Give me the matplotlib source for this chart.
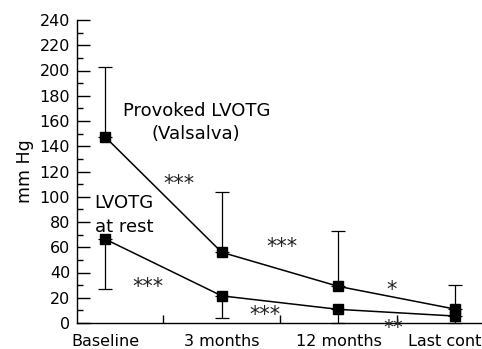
import numpy as np
import matplotlib
matplotlib.use('Agg')
import matplotlib.pyplot as plt
from matplotlib.ticker import MultipleLocator, FixedLocator

# data
categories = ['Baseline', '3 months', '12 months', 'Last control']
provoked = [147.5, 56, 29, 11]
provoked_up = [55, 48, 43.5, 19]      # upper SD only
rest = [66.5, 21.5, 10.8, 5.5]
rest_down = [39.5, 17.5, 10.8, 5.5]   # lower SD only

plt.rcParams['font.family'] = 'DejaVu Sans'

fig = plt.figure(figsize=(4.82, 3.49), dpi=100)
ax = fig.add_axes([77/482, 26/349, 405/482, 303/349])

x = np.arange(len(categories))
ax.errorbar(x, provoked, yerr=[np.zeros(len(x)), provoked_up], color='black',
            marker='s', markersize=6.5, linewidth=1.1, elinewidth=0.9,
            capsize=5, capthick=0.9, clip_on=False, zorder=3)
ax.errorbar(x, rest, yerr=[rest_down, np.zeros(len(x))], color='black',
            marker='s', markersize=6.5, linewidth=1.1, elinewidth=0.9,
            capsize=5, capthick=0.9, clip_on=False, zorder=3)

ax.set_xlim(-0.24, 3.23)
ax.set_ylim(0, 240)

for side in ['top', 'right']:
    ax.spines[side].set_visible(False)
ax.spines['left'].set_linewidth(1.0)
ax.spines['bottom'].set_linewidth(1.0)

ax.yaxis.set_major_locator(MultipleLocator(20))
ax.yaxis.set_minor_locator(MultipleLocator(10))
ax.tick_params(axis='y', which='major', direction='in', length=9.5, width=1.0,
               pad=5, labelsize=11.5)
ax.tick_params(axis='y', which='minor', direction='in', length=4.5, width=1.0)

ax.set_xticks(x)
ax.set_xticklabels(categories)
ax.xaxis.set_minor_locator(FixedLocator([0.5, 1.5, 2.5]))
ax.tick_params(axis='x', which='major', length=0, pad=8, labelsize=11.5)
ax.tick_params(axis='x', which='minor', direction='in', length=6, width=1.0)

ax.set_ylabel('mm Hg', fontsize=12.5, labelpad=4)

# series labels
ax.text(0.784, 164, 'Provoked LVOTG', ha='center', va='baseline', fontsize=13)
ax.text(0.78, 145.7, '(Valsalva)', ha='center', va='baseline', fontsize=13)
ax.text(0.163, 91, 'LVOTG', ha='center', va='baseline', fontsize=13)
ax.text(0.163, 72.3, 'at rest', ha='center', va='baseline', fontsize=13)

# significance marks
stars = [('***', 0.634, 105.4, 15), ('***', 0.368, 23.8, 15),
         ('***', 1.517, 55.5, 15), ('***', 1.371, 1.6, 15),
         ('*', 2.459, 21.4, 15), ('**', 2.47, -7.9, 14)]
for s, sx, sy, fs in stars:
    ax.text(sx, sy, s, ha='center', va='baseline', fontsize=fs, color='#222222')

fig.savefig('out.png', dpi=100)
